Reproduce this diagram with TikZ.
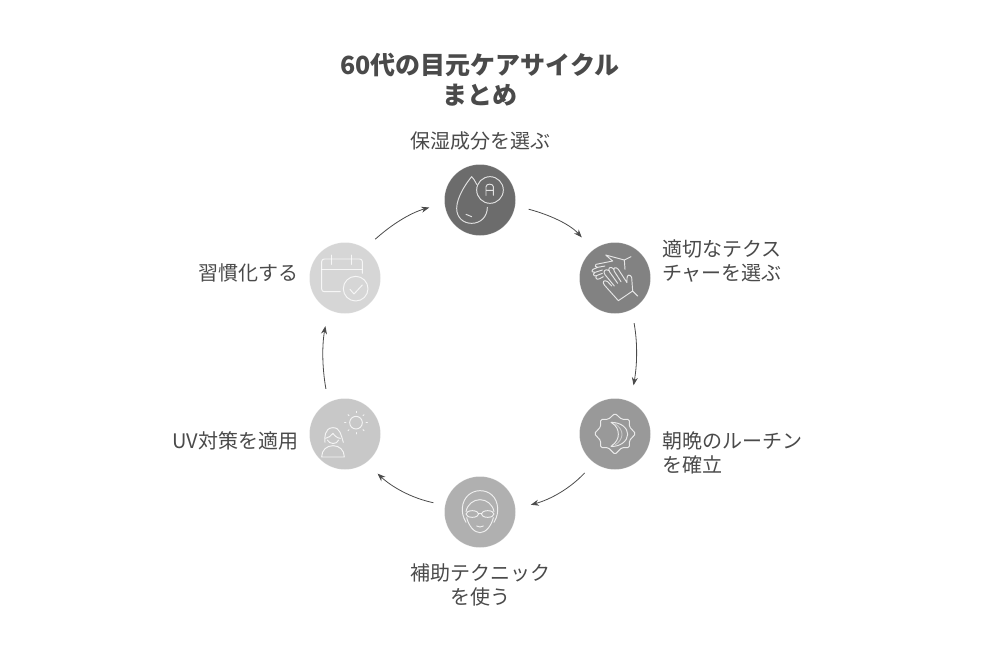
\documentclass[tikz,border=0pt]{standalone}
\usepackage{fontspec}
\setmainfont{Noto Sans CJK JP}
\usetikzlibrary{arrows.meta}
\definecolor{txt}{HTML}{4A4A4A}
\definecolor{cA}{HTML}{6C6C6C}
\definecolor{cB}{HTML}{828282}
\definecolor{cC}{HTML}{999999}
\definecolor{cD}{HTML}{B0B0B0}
\definecolor{cE}{HTML}{C8C8C8}
\definecolor{cF}{HTML}{D6D6D6}
\tikzset{
  every node/.style={inner sep=0pt,outer sep=0pt},
  stage/.style={circle,minimum size=71pt,draw=white,draw opacity=.25,line width=.5pt},
  lab/.style={text=txt,font=\fontsize{20}{24}\selectfont,align=#1},
  lab/.default=center,
  conn/.style={draw=txt,line width=.8pt,-{Stealth[length=8pt,width=6pt]}},
  ico/.style={draw=white,draw opacity=.8,line width=.95pt,line cap=round,line join=round,x=.33333pt,y=-.33333pt},
}
\begin{document}
\begin{tikzpicture}[x=1pt,y=1pt]
\useasboundingbox (0,0) rectangle (990,-656);
\fill[white] (0,0) rectangle (990,-656);
% title
\node[text=txt,font=\fontsize{25}{30}\selectfont\bfseries,align=center] (title) at (480,-80) {60代の目元ケアサイクル\\まとめ};
% stages
\node[stage,fill=cA] (n1) at (480,-200) {};
\node[stage,fill=cB] (n2) at (615,-278) {};
\node[stage,fill=cC] (n3) at (615,-434) {};
\node[stage,fill=cD] (n4) at (480,-512) {};
\node[stage,fill=cE] (n5) at (345,-434) {};
\node[stage,fill=cF] (n6) at (345,-278) {};
% labels
\node[lab] (l1) at (480,-141) {保湿成分を選ぶ};
\node[lab=left,anchor=west] (l2) at (662,-261) {適切なテクス\\チャーを選ぶ};
\node[lab=left,anchor=west] (l3) at (662,-453) {朝晩のルーチン\\を確立};
\node[lab] (l4) at (480,-585) {補助テクニック\\を使う};
\node[lab,anchor=east] (l5) at (298,-441) {UV対策を適用};
\node[lab,anchor=east] (l6) at (298,-273) {習慣化する};
% connectors
\draw[conn,shorten <=14pt,shorten >=17pt] (n1.-9) to[out=-15,in=132] (n2.128);
\draw[conn,shorten <=14pt,shorten >=17pt] (n2.-62) to[out=-80,in=80] (n3.64);
\draw[conn,shorten <=14pt,shorten >=16pt] (n3.-126) to[out=-133,in=15] (n4.5);
\draw[conn,shorten <=12pt,shorten >=16pt] (n4.169) to[out=168,in=-43] (n5.-54);
\draw[conn,shorten <=14pt,shorten >=17pt] (n5.118) to[out=100,in=-100] (n6.-118);
\draw[conn,shorten <=14pt,shorten >=16pt] (n6.56) to[out=42,in=196] (n1.185);
% icon 1: drop and vitamin A
\begin{scope}[shift={(430,-150)}]
\draw[ico] (140,103) .. controls (134,92) and (130,84) .. (125,80) .. controls (112,95) and (80,140) .. (80,175) .. controls (80,203) and (100,220) .. (125,220) .. controls (152,220) and (172,200) .. (172,172);
\draw[ico] (180,120) circle[radius=40];
\draw[ico] (168,136) -- (168,110) .. controls (168,100) and (190,100) .. (190,110) -- (190,136) (168,121) -- (190,121);
\draw[ico] (108,193) -- (125,200);
\end{scope}
% icon 2: hands
\begin{scope}[shift={(565,-230)}]
\draw[ico] (198,80) -- (178,90) -- (180,118) (178,90) -- (122,75) -- (143,93) -- (93,103) .. controls (88,106) and (90,112) .. (98,112) -- (120,108)
 (98,112) -- (84,118) .. controls (78,124) and (82,128) .. (90,127) -- (112,120)
 (90,127) .. controls (82,132) and (86,140) .. (94,137) -- (112,130)
 (94,137) .. controls (90,146) and (96,150) .. (104,146) -- (115,140);
\draw[ico] (218,198) -- (203,183) -- (160,212) -- (118,165) .. controls (110,155) and (118,148) .. (128,155) -- (140,168)
 (203,183) -- (200,142) .. controls (196,132) and (186,134) .. (186,144) -- (186,158) -- (160,118) .. controls (152,108) and (142,114) .. (148,124) -- (168,155)
 (148,120) .. controls (136,104) and (126,116) .. (134,126) -- (158,160)
 (132,122) .. controls (122,114) and (112,124) .. (120,134) -- (148,168);
\end{scope}
% icon 3: star and moon
\begin{scope}[shift={(565,-385)}]
\draw[ico,rounded corners=1.5pt] (150,85) -- (170,103) -- (193,103) -- (193,125) -- (212,146) -- (193,167) -- (193,188) -- (170,188) -- (150,208) -- (130,188) -- (107,188) -- (107,167) -- (88,146) -- (107,125) -- (107,103) -- (130,103) -- cycle;
\draw[ico] (138,112) .. controls (170,112) and (188,130) .. (188,148) .. controls (188,168) and (165,186) .. (138,184) .. controls (155,172) and (160,160) .. (160,148) .. controls (160,134) and (155,122) .. (138,112) -- cycle;
\draw[ico,draw opacity=.45] (150,116) .. controls (163,125) and (171,136) .. (171,148) .. controls (171,160) and (163,172) .. (150,180);
\end{scope}
% icon 4: face with glasses
\begin{scope}[shift={(430,-465)}]
\draw[ico] (108,172) .. controls (98,155) and (96,140) .. (97,128) .. controls (100,95) and (125,77) .. (150,77) .. controls (178,77) and (200,95) .. (203,128) .. controls (204,140) and (202,155) .. (192,172);
\draw[ico] (108,140) .. controls (112,118) and (130,104) .. (150,104) .. controls (170,104) and (188,118) .. (192,140);
\draw[ico] (110,158) .. controls (116,182) and (132,203) .. (150,203) .. controls (168,203) and (184,182) .. (190,158);
\draw[ico] (127,147) ellipse[x radius=19,y radius=10];
\draw[ico] (173,147) ellipse[x radius=19,y radius=10];
\draw[ico] (146,144) -- (154,144);
\draw[ico] (140,183) .. controls (145,187) and (155,187) .. (160,183);
\end{scope}
% icon 5: sun and person
\begin{scope}[shift={(295,-385)}]
\draw[ico] (183,113) circle[radius=19];
\foreach \a in {0,45,...,315}{\draw[ico] (183,113) ++(\a:30) -- ++(\a:4);}
\draw[ico] (90,172) .. controls (88,160) and (88,128) .. (114,128) .. controls (136,128) and (138,150) .. (145,172);
\draw[ico] (92,160) .. controls (100,158) and (110,152) .. (114,145) .. controls (118,152) and (128,160) .. (136,160);
\draw[ico] (97,165) .. controls (103,178) and (125,180) .. (131,165);
\draw[ico] (80,216) .. controls (80,195) and (95,182) .. (114,182) .. controls (133,182) and (148,195) .. (148,216) -- cycle;
\end{scope}
% icon 6: calendar and check
\begin{scope}[shift={(295,-230)}]
\draw[ico] (136,185) -- (88,185) .. controls (83,185) and (80,182) .. (80,177) -- (80,95) .. controls (80,90) and (83,87) .. (88,87) -- (194,87) .. controls (199,87) and (202,90) .. (202,95) -- (202,130);
\draw[ico] (80,118) -- (202,118);
\draw[ico] (110,75) -- (110,103) (170,75) -- (170,103);
\draw[ico] (182,176) circle[radius=37];
\draw[ico] (165,178) -- (177,192) -- (202,165);
\end{scope}
\end{tikzpicture}
\end{document}
